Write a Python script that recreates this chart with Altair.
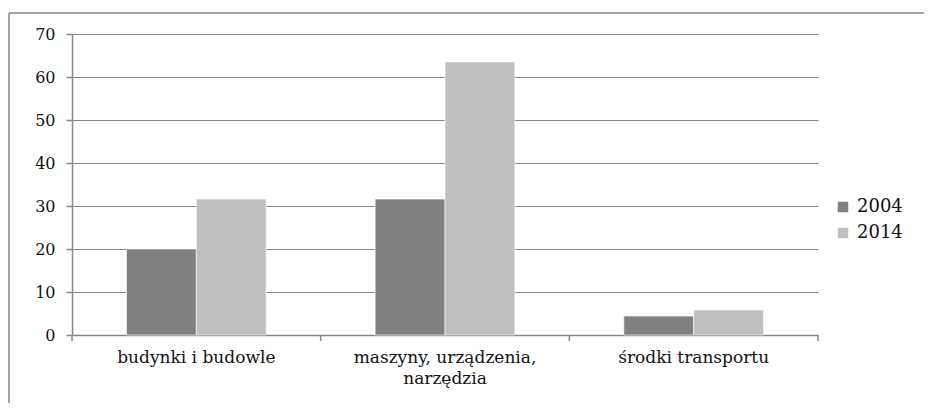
import altair as alt
import pandas as pd

categories = ["budynki i budowle", "maszyny, urządzenia, narzędzia", "środki transportu"]
years = ["2004", "2014"]
values_2004 = [20.0, 31.6, 4.4]
values_2014 = [31.6, 63.5, 5.8]

rows = []
for c, a, b in zip(categories, values_2004, values_2014):
    rows.append({"kat": c, "rok": "2004", "val": a})
    rows.append({"kat": c, "rok": "2014", "val": b})
df = pd.DataFrame(rows)

W, H = 746, 301
FONT = "DejaVu Serif"
GRAY = "#868686"
TXT = "#111111"

x_scale = alt.Scale(domain=categories, paddingInner=0, paddingOuter=0)

bars = alt.Chart(df).mark_bar(stroke="white", strokeWidth=0.6).encode(
    x=alt.X("kat:N", scale=x_scale, sort=categories, title=None,
            axis=alt.Axis(labelAngle=0, ticks=False, domain=True, domainColor=GRAY,
                          domainWidth=1.5, labelFont=FONT, labelFontSize=17,
                          labelColor=TXT, labelPadding=14, labelLimit=400,
                          labelLineHeight=21,
                          labelExpr="datum.label == 'maszyny, urządzenia, narzędzia' ? ['maszyny, urządzenia,', 'narzędzia'] : datum.label")),
    xOffset=alt.XOffset("rok:N", scale=alt.Scale(domain=years, paddingOuter=0.78, paddingInner=0)),
    y=alt.Y("val:Q", scale=alt.Scale(domain=[0, 70], nice=False), title=None,
            axis=alt.Axis(values=list(range(0, 71, 10)), grid=True, gridColor=GRAY,
                          gridWidth=1.2, domainColor=GRAY, domainWidth=1.5,
                          tickColor=GRAY, tickSize=6, tickWidth=1.5,
                          labelFont=FONT, labelFontSize=16, labelColor=TXT,
                          labelPadding=11)),
    color=alt.Color("rok:N", scale=alt.Scale(domain=years, range=["#808080", "#bfbfbf"]),
                    legend=alt.Legend(title=None, orient="none", legendX=762, legendY=164,
                                      symbolType="square", symbolSize=110,
                                      symbolStrokeWidth=0, labelFont=FONT,
                                      labelFontSize=18, labelColor=TXT,
                                      rowPadding=8, labelOffset=5)),
)

tick_df = pd.DataFrame({"kat": categories})
xticks = alt.Chart(tick_df).mark_rule(color=GRAY, strokeWidth=1.5).encode(
    x=alt.X("kat:N", scale=x_scale, sort=categories, bandPosition=0),
    y=alt.value(H),
    y2=alt.value(H + 6),
)
xtick_end = alt.Chart(pd.DataFrame({"a": [0]})).mark_rule(color=GRAY, strokeWidth=1.5).encode(
    x=alt.value(W), y=alt.value(H), y2=alt.value(H + 6)
)

one = pd.DataFrame({"a": [0]})
frame_left = alt.Chart(one).mark_rule(color=GRAY, strokeWidth=1.5, clip=False).encode(
    x=alt.value(-63), y=alt.value(-21), y2=alt.value(H + 90)
)
frame_top = alt.Chart(one).mark_rule(color=GRAY, strokeWidth=1.5, clip=False).encode(
    x=alt.value(-63), x2=alt.value(W + 130), y=alt.value(-21)
)

chart = alt.layer(frame_left, frame_top, bars, xticks, xtick_end).properties(
    width=W, height=H,
    padding={"left": 64, "top": 26, "right": 106, "bottom": 68},
    autosize=alt.AutoSizeParams(type="none"),
    background="white",
).configure_view(stroke=None).configure_axis(labelFont=FONT)

chart.save("out.html", embed_options={"renderer": "svg", "actions": False})
